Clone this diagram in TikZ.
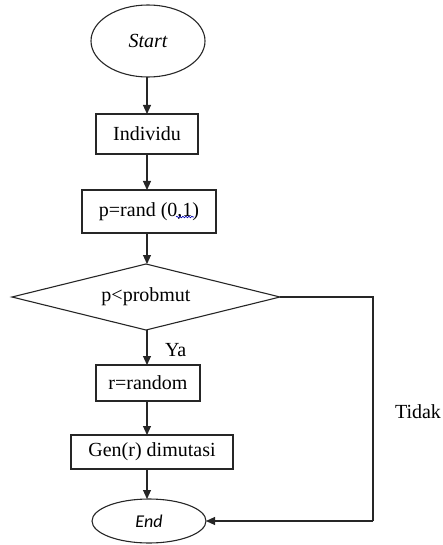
\documentclass[tikz,border=0pt]{standalone}
\usepackage{fontspec}
\setmainfont{Liberation Serif}
\newfontfamily\endfont{Carlito}
\usetikzlibrary{shapes.geometric,arrows.meta,decorations.pathmorphing}
\begin{document}
\begin{tikzpicture}[x=1pt,y=-1pt,
  every node/.style={inner sep=0pt,outer sep=0pt},
  line/.style={draw=black!85,line width=1.1pt},
  arr/.style={line,-{Triangle[length=9pt,width=8pt]}},
  boxn/.style={line,rectangle,font=\fontsize{20}{24}\selectfont},
  term/.style={line,ellipse},
  dec/.style={line,diamond,shape aspect=4.06,font=\fontsize{20}{24}\selectfont},
  lbl/.style={font=\fontsize{20}{24}\selectfont}]
\useasboundingbox (0,0) rectangle (442,545);
\node[term,minimum width=114pt,minimum height=72pt,font=\fontsize{20}{24}\selectfont\itshape] (start) at (148,41) {Start};
\node[boxn,minimum width=102pt,minimum height=40pt] (ind) at (147,134) {Individu};
\node[boxn,minimum width=134pt,minimum height=43pt] (rand) at (149,211.5) {p=rand (0,1)};
\node[dec,minimum width=268pt,minimum height=66pt] (dia) at (146,297) {p<probmut};
\node[boxn,minimum width=104pt,minimum height=36pt] (rr) at (148,383) {r=random};
\node[boxn,minimum width=162pt,minimum height=34pt] (gen) at (152,452) {Gen(r) dimutasi};
\node[term,minimum width=114pt,minimum height=44pt,font=\fontsize{18}{22}\endfont\itshape] (end) at (149,521) {End};
\node[lbl,anchor=base west] (ya) at (165,356) {Ya};
\node[lbl,anchor=base west] (tidak) at (395,418) {Tidak};
\coordinate (c1) at (373,297);
\coordinate (c2) at (373,521);
\draw[arr] (147,77) coordinate (s0) -- (s0 |- ind.north);
\draw[arr] (147,154) coordinate (s1) -- (s1 |- rand.north);
\draw[arr] (147,233) coordinate (s2) -- (s2 |- dia.north);
\draw[arr] (147,330) coordinate (s3) -- (s3 |- rr.north);
\draw[arr] (147,401) coordinate (s4) -- (s4 |- gen.north);
\draw[arr] (147,469) coordinate (s5) -- (s5 |- end.north);
\draw[line] (dia.east) -- (c1) -- (c2);
\draw[arr] (c2) -- (end.east);
\draw[blue!70!black,line width=0.6pt,decorate,decoration={snake,amplitude=0.8pt,segment length=3pt}] (176,217) -- (194,217);
\end{tikzpicture}
\end{document}
